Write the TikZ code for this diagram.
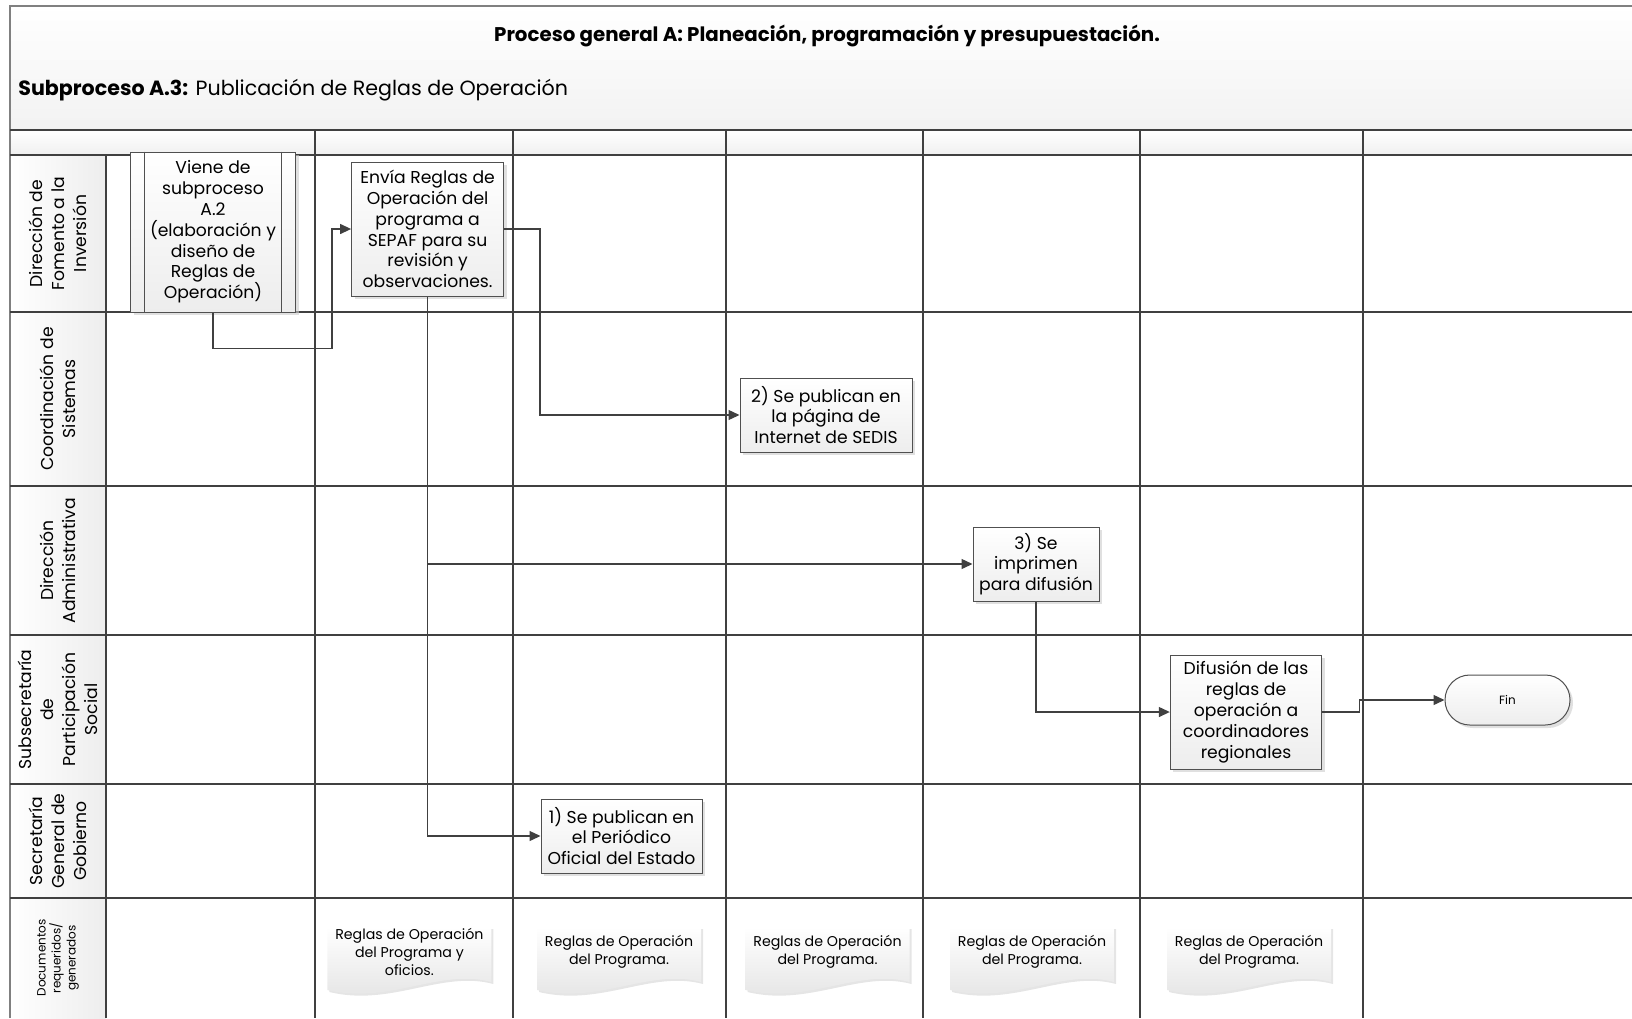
\documentclass[tikz,border=0pt]{standalone}
\usepackage{fontspec}
\setmainfont{Poppins}
\usetikzlibrary{arrows.meta, shadows}

\definecolor{linegray}{HTML}{404040}
\definecolor{boxborder}{HTML}{505050}

\newcommand\titlefont{\fontsize{9.9}{12}\selectfont\bfseries}
\newcommand\subfont{\fontsize{10.3}{12.5}\selectfont}
\newcommand\boxfont{\fontsize{8.6}{10.4}\selectfont}
\newcommand\lanefont{\fontsize{8.6}{11}\selectfont}
\newcommand\docfont{\fontsize{7.1}{8.8}\selectfont}

\tikzset{
  grid/.style={draw=linegray, line width=0.8pt},
  flow/.style={draw=linegray, line width=0.65pt, -{Triangle[length=5.5pt,width=5pt]}},
  procbox/.style={draw=boxborder, line width=0.5pt, top color=white, bottom color=gray!14,
    drop shadow={shadow xshift=1.5pt, shadow yshift=-1.5pt, fill=gray!40, opacity=0.6},
    align=center, font=\boxfont, inner sep=1pt},
  subproc/.style={procbox},
  finnode/.style={procbox, rounded corners=12.4pt, font=\fontsize{6}{7}\selectfont},
  lanelabel/.style={rotate=90, align=center, font=\lanefont, inner sep=0pt},
  doctext/.style={align=center, font=\docfont, inner sep=0pt}
}

\begin{document}
\begin{tikzpicture}[x=0.5pt, y=-0.5pt]

		% Page size
		\useasboundingbox (0,0) rectangle (1632,1018);

		% Header bands and lane label column
		\shade[top color=white, bottom color=gray!10] (10,6) rectangle (1632,130);
		\shade[top color=white, bottom color=gray!12] (10,130) rectangle (1632,155);
		\shade[left color=white, right color=gray!14] (10,155) rectangle (106,1018);

		% Titles
		\node[font=\titlefont] (title) at (827,36) {Proceso general A: Planeación, programación y presupuestación.};
		\node[anchor=west, font=\subfont, inner sep=0pt] (subtitle) at (18,90) {\textbf{Subproceso A.3:} Publicación de Reglas de Operación};

		% Frame, lanes and columns
		\draw[grid, draw=gray] (10,1018) -- (10,6) -- (1632,6);
		\foreach \y in {130,155,312,486,635,784,898}
			\draw[grid] (10,\y) -- (1632,\y);
		\draw[grid] (106,155) -- (106,1018);
		\foreach \x in {315,513,726,923,1140,1363}
			\draw[grid] (\x,130) -- (\x,1018);

		% Lane labels
		\foreach \y/\t [count=\i] in {233.5/{Dirección de\\Fomento a la\\Inversión},
			399/{Coordinación de\\Sistemas},
			560.5/{Dirección\\Administrativa},
			709.5/{Subsecretaría\\de\\Participación\\Social},
			841/{Secretaría\\General de\\Gobierno}}
			\node[lanelabel] (lane\i) at (58,\y) {\t};
		\node[lanelabel, font=\fontsize{6}{7.5}\selectfont] (lane6) at (58,958) {Documentos\\requeridos/\\generados};

		% Process steps
		\node[subproc, minimum width=82.5pt, minimum height=80pt] (viene) at (213,232)
			{Viene de\\subproceso\\A.2\\(elaboración y\\diseño de\\Reglas de\\Operación)};
		\draw[draw=boxborder, line width=0.5pt] ([xshift=7.3pt]viene.north west) -- ([xshift=7.3pt]viene.south west);
		\draw[draw=boxborder, line width=0.5pt] ([xshift=-7.3pt]viene.north east) -- ([xshift=-7.3pt]viene.south east);

		\node[procbox, minimum width=76pt, minimum height=67pt] (envia) at (427.6,229)
			{Envía Reglas de\\Operación del\\programa a\\SEPAF para su\\revisión y\\observaciones.};
		\node[procbox, minimum width=86pt, minimum height=37pt] (pub2) at (826,415)
			{2) Se publican en\\la página de\\Internet de SEDIS};
		\node[procbox, minimum width=63pt, minimum height=37pt] (impr3) at (1036,564)
			{3) Se\\imprimen\\para difusión};
		\node[procbox, minimum width=75.7pt, minimum height=57pt] (difu) at (1246,712)
			{Difusión de las\\reglas de\\operación a\\coordinadores\\regionales};
		\node[finnode, minimum width=62.5pt, minimum height=25pt] (fin) at (1507.5,700) {Fin};
		\node[procbox, minimum width=80.5pt, minimum height=37pt] (pub1) at (621.5,836)
			{1) Se publican en\\el Periódico\\Oficial del Estado};

		% Connectors
		\draw[flow] (viene.south) -- ++(0,36) -- ++(119,0) |- (envia.west);
		\draw[flow] (envia.east) -- ++(36,0) |- (pub2.west);
		\draw[flow] (envia.south) |- (pub1.west);
		\draw[flow] (envia.south |- impr3.west) -- (impr3.west);
		\draw[flow] (impr3.south) |- (difu.west);
		\draw[flow] (difu.east) -- ++(37,0) |- (fin.west);

		% Documents
		\foreach \x/\t [count=\i] in {409.4/{Reglas de Operación\\del Programa y\\oficios.},
			619/{Reglas de Operación\\del Programa.},
			827.5/{Reglas de Operación\\del Programa.},
			1032/{Reglas de Operación\\del Programa.},
			1249/{Reglas de Operación\\del Programa.}} {
			\fill[gray!20] (\x-80,929) -- (\x+84,929) -- (\x+84,984) .. controls (\x+32,970) and (\x-18,1007) .. (\x-80,992) -- cycle;
			\shade[top color=white, bottom color=gray!22] (\x-82,927) -- (\x+82,927) -- (\x+82,982) .. controls (\x+30,968) and (\x-20,1005) .. (\x-82,990) -- cycle;
			\node[doctext] (doc\i) at (\x,952) {\t};
		}

	\end{tikzpicture}
\end{document}
